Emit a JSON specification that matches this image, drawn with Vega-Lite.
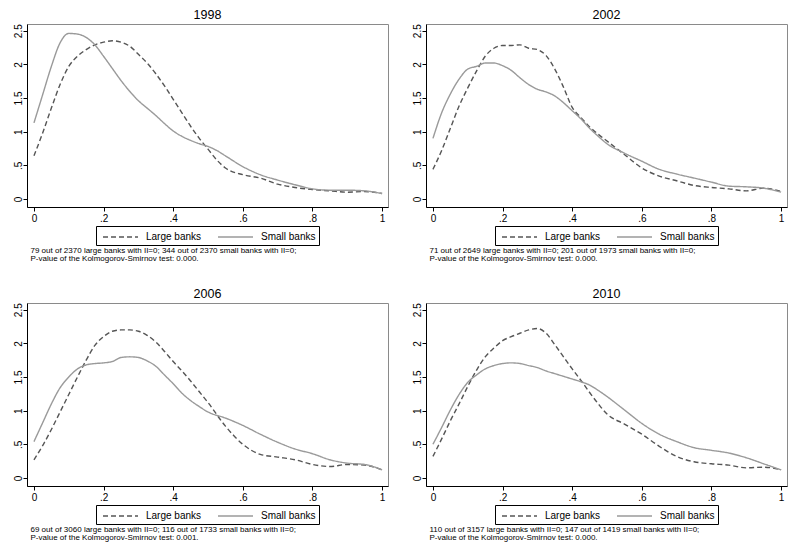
{
  "$schema": "https://vega.github.io/schema/vega-lite/v6.json",
  "background": "white",
  "padding": {"left": 12, "top": 8, "right": 6, "bottom": 2},
  "datasets": {
    "d": [
      {"year":1998,"g":"Large banks","x":0,"y":0.64},{"year":1998,"g":"Large banks","x":0.025,"y":0.98},{"year":1998,"g":"Large banks","x":0.05,"y":1.35},{"year":1998,"g":"Large banks","x":0.075,"y":1.7},{"year":1998,"g":"Large banks","x":0.1,"y":1.97},{"year":1998,"g":"Large banks","x":0.125,"y":2.12},{"year":1998,"g":"Large banks","x":0.15,"y":2.22},{"year":1998,"g":"Large banks","x":0.175,"y":2.29},{"year":1998,"g":"Large banks","x":0.2,"y":2.33},{"year":1998,"g":"Large banks","x":0.225,"y":2.35},{"year":1998,"g":"Large banks","x":0.25,"y":2.33},{"year":1998,"g":"Large banks","x":0.275,"y":2.27},{"year":1998,"g":"Large banks","x":0.3,"y":2.15},{"year":1998,"g":"Large banks","x":0.325,"y":2.02},{"year":1998,"g":"Large banks","x":0.35,"y":1.86},{"year":1998,"g":"Large banks","x":0.375,"y":1.68},{"year":1998,"g":"Large banks","x":0.4,"y":1.48},{"year":1998,"g":"Large banks","x":0.425,"y":1.28},{"year":1998,"g":"Large banks","x":0.45,"y":1.08},{"year":1998,"g":"Large banks","x":0.475,"y":0.9},{"year":1998,"g":"Large banks","x":0.5,"y":0.74},{"year":1998,"g":"Large banks","x":0.525,"y":0.58},{"year":1998,"g":"Large banks","x":0.55,"y":0.46},{"year":1998,"g":"Large banks","x":0.6,"y":0.36},{"year":1998,"g":"Large banks","x":0.65,"y":0.31},{"year":1998,"g":"Large banks","x":0.7,"y":0.22},{"year":1998,"g":"Large banks","x":0.75,"y":0.17},{"year":1998,"g":"Large banks","x":0.8,"y":0.14},{"year":1998,"g":"Large banks","x":0.85,"y":0.12},{"year":1998,"g":"Large banks","x":0.9,"y":0.1},{"year":1998,"g":"Large banks","x":0.95,"y":0.11},{"year":1998,"g":"Large banks","x":1,"y":0.08},
      {"year":1998,"g":"Small banks","x":0,"y":1.13},{"year":1998,"g":"Small banks","x":0.025,"y":1.55},{"year":1998,"g":"Small banks","x":0.05,"y":1.97},{"year":1998,"g":"Small banks","x":0.075,"y":2.32},{"year":1998,"g":"Small banks","x":0.1,"y":2.46},{"year":1998,"g":"Small banks","x":0.125,"y":2.45},{"year":1998,"g":"Small banks","x":0.15,"y":2.4},{"year":1998,"g":"Small banks","x":0.175,"y":2.29},{"year":1998,"g":"Small banks","x":0.2,"y":2.12},{"year":1998,"g":"Small banks","x":0.225,"y":1.94},{"year":1998,"g":"Small banks","x":0.25,"y":1.76},{"year":1998,"g":"Small banks","x":0.275,"y":1.6},{"year":1998,"g":"Small banks","x":0.3,"y":1.46},{"year":1998,"g":"Small banks","x":0.325,"y":1.35},{"year":1998,"g":"Small banks","x":0.35,"y":1.24},{"year":1998,"g":"Small banks","x":0.375,"y":1.12},{"year":1998,"g":"Small banks","x":0.4,"y":1.01},{"year":1998,"g":"Small banks","x":0.425,"y":0.93},{"year":1998,"g":"Small banks","x":0.45,"y":0.87},{"year":1998,"g":"Small banks","x":0.475,"y":0.82},{"year":1998,"g":"Small banks","x":0.5,"y":0.78},{"year":1998,"g":"Small banks","x":0.525,"y":0.72},{"year":1998,"g":"Small banks","x":0.55,"y":0.64},{"year":1998,"g":"Small banks","x":0.6,"y":0.48},{"year":1998,"g":"Small banks","x":0.65,"y":0.36},{"year":1998,"g":"Small banks","x":0.7,"y":0.28},{"year":1998,"g":"Small banks","x":0.75,"y":0.21},{"year":1998,"g":"Small banks","x":0.8,"y":0.15},{"year":1998,"g":"Small banks","x":0.85,"y":0.13},{"year":1998,"g":"Small banks","x":0.9,"y":0.13},{"year":1998,"g":"Small banks","x":0.95,"y":0.12},{"year":1998,"g":"Small banks","x":1,"y":0.08},
      {"year":2002,"g":"Large banks","x":0,"y":0.44},{"year":2002,"g":"Large banks","x":0.025,"y":0.72},{"year":2002,"g":"Large banks","x":0.05,"y":1.05},{"year":2002,"g":"Large banks","x":0.075,"y":1.38},{"year":2002,"g":"Large banks","x":0.1,"y":1.65},{"year":2002,"g":"Large banks","x":0.125,"y":1.9},{"year":2002,"g":"Large banks","x":0.15,"y":2.12},{"year":2002,"g":"Large banks","x":0.175,"y":2.24},{"year":2002,"g":"Large banks","x":0.2,"y":2.28},{"year":2002,"g":"Large banks","x":0.225,"y":2.28},{"year":2002,"g":"Large banks","x":0.25,"y":2.29},{"year":2002,"g":"Large banks","x":0.275,"y":2.24},{"year":2002,"g":"Large banks","x":0.3,"y":2.22},{"year":2002,"g":"Large banks","x":0.325,"y":2.13},{"year":2002,"g":"Large banks","x":0.35,"y":1.93},{"year":2002,"g":"Large banks","x":0.375,"y":1.66},{"year":2002,"g":"Large banks","x":0.4,"y":1.36},{"year":2002,"g":"Large banks","x":0.425,"y":1.21},{"year":2002,"g":"Large banks","x":0.45,"y":1.07},{"year":2002,"g":"Large banks","x":0.475,"y":0.96},{"year":2002,"g":"Large banks","x":0.5,"y":0.86},{"year":2002,"g":"Large banks","x":0.55,"y":0.66},{"year":2002,"g":"Large banks","x":0.6,"y":0.46},{"year":2002,"g":"Large banks","x":0.65,"y":0.34},{"year":2002,"g":"Large banks","x":0.7,"y":0.27},{"year":2002,"g":"Large banks","x":0.75,"y":0.2},{"year":2002,"g":"Large banks","x":0.8,"y":0.17},{"year":2002,"g":"Large banks","x":0.85,"y":0.15},{"year":2002,"g":"Large banks","x":0.9,"y":0.12},{"year":2002,"g":"Large banks","x":0.95,"y":0.16},{"year":2002,"g":"Large banks","x":1,"y":0.11},
      {"year":2002,"g":"Small banks","x":0,"y":0.9},{"year":2002,"g":"Small banks","x":0.025,"y":1.28},{"year":2002,"g":"Small banks","x":0.05,"y":1.56},{"year":2002,"g":"Small banks","x":0.075,"y":1.78},{"year":2002,"g":"Small banks","x":0.1,"y":1.93},{"year":2002,"g":"Small banks","x":0.125,"y":1.97},{"year":2002,"g":"Small banks","x":0.15,"y":2.02},{"year":2002,"g":"Small banks","x":0.175,"y":2.02},{"year":2002,"g":"Small banks","x":0.2,"y":1.98},{"year":2002,"g":"Small banks","x":0.225,"y":1.91},{"year":2002,"g":"Small banks","x":0.25,"y":1.8},{"year":2002,"g":"Small banks","x":0.275,"y":1.7},{"year":2002,"g":"Small banks","x":0.3,"y":1.63},{"year":2002,"g":"Small banks","x":0.325,"y":1.59},{"year":2002,"g":"Small banks","x":0.35,"y":1.53},{"year":2002,"g":"Small banks","x":0.375,"y":1.43},{"year":2002,"g":"Small banks","x":0.4,"y":1.31},{"year":2002,"g":"Small banks","x":0.425,"y":1.19},{"year":2002,"g":"Small banks","x":0.45,"y":1.05},{"year":2002,"g":"Small banks","x":0.475,"y":0.93},{"year":2002,"g":"Small banks","x":0.5,"y":0.82},{"year":2002,"g":"Small banks","x":0.55,"y":0.68},{"year":2002,"g":"Small banks","x":0.6,"y":0.56},{"year":2002,"g":"Small banks","x":0.65,"y":0.44},{"year":2002,"g":"Small banks","x":0.7,"y":0.37},{"year":2002,"g":"Small banks","x":0.75,"y":0.31},{"year":2002,"g":"Small banks","x":0.8,"y":0.25},{"year":2002,"g":"Small banks","x":0.85,"y":0.19},{"year":2002,"g":"Small banks","x":0.9,"y":0.18},{"year":2002,"g":"Small banks","x":0.95,"y":0.16},{"year":2002,"g":"Small banks","x":1,"y":0.1},
      {"year":2006,"g":"Large banks","x":0,"y":0.27},{"year":2006,"g":"Large banks","x":0.025,"y":0.48},{"year":2006,"g":"Large banks","x":0.05,"y":0.72},{"year":2006,"g":"Large banks","x":0.075,"y":0.98},{"year":2006,"g":"Large banks","x":0.1,"y":1.24},{"year":2006,"g":"Large banks","x":0.125,"y":1.5},{"year":2006,"g":"Large banks","x":0.15,"y":1.75},{"year":2006,"g":"Large banks","x":0.175,"y":1.97},{"year":2006,"g":"Large banks","x":0.2,"y":2.1},{"year":2006,"g":"Large banks","x":0.225,"y":2.18},{"year":2006,"g":"Large banks","x":0.25,"y":2.2},{"year":2006,"g":"Large banks","x":0.275,"y":2.2},{"year":2006,"g":"Large banks","x":0.3,"y":2.18},{"year":2006,"g":"Large banks","x":0.325,"y":2.12},{"year":2006,"g":"Large banks","x":0.35,"y":2.02},{"year":2006,"g":"Large banks","x":0.375,"y":1.88},{"year":2006,"g":"Large banks","x":0.4,"y":1.73},{"year":2006,"g":"Large banks","x":0.425,"y":1.59},{"year":2006,"g":"Large banks","x":0.45,"y":1.44},{"year":2006,"g":"Large banks","x":0.475,"y":1.28},{"year":2006,"g":"Large banks","x":0.5,"y":1.12},{"year":2006,"g":"Large banks","x":0.55,"y":0.77},{"year":2006,"g":"Large banks","x":0.6,"y":0.5},{"year":2006,"g":"Large banks","x":0.65,"y":0.35},{"year":2006,"g":"Large banks","x":0.7,"y":0.31},{"year":2006,"g":"Large banks","x":0.75,"y":0.27},{"year":2006,"g":"Large banks","x":0.8,"y":0.2},{"year":2006,"g":"Large banks","x":0.85,"y":0.17},{"year":2006,"g":"Large banks","x":0.9,"y":0.2},{"year":2006,"g":"Large banks","x":0.95,"y":0.19},{"year":2006,"g":"Large banks","x":1,"y":0.12},
      {"year":2006,"g":"Small banks","x":0,"y":0.54},{"year":2006,"g":"Small banks","x":0.025,"y":0.82},{"year":2006,"g":"Small banks","x":0.05,"y":1.1},{"year":2006,"g":"Small banks","x":0.075,"y":1.34},{"year":2006,"g":"Small banks","x":0.1,"y":1.5},{"year":2006,"g":"Small banks","x":0.125,"y":1.62},{"year":2006,"g":"Small banks","x":0.15,"y":1.68},{"year":2006,"g":"Small banks","x":0.175,"y":1.7},{"year":2006,"g":"Small banks","x":0.2,"y":1.71},{"year":2006,"g":"Small banks","x":0.225,"y":1.73},{"year":2006,"g":"Small banks","x":0.25,"y":1.79},{"year":2006,"g":"Small banks","x":0.275,"y":1.8},{"year":2006,"g":"Small banks","x":0.3,"y":1.79},{"year":2006,"g":"Small banks","x":0.325,"y":1.74},{"year":2006,"g":"Small banks","x":0.35,"y":1.66},{"year":2006,"g":"Small banks","x":0.375,"y":1.53},{"year":2006,"g":"Small banks","x":0.4,"y":1.4},{"year":2006,"g":"Small banks","x":0.425,"y":1.26},{"year":2006,"g":"Small banks","x":0.45,"y":1.15},{"year":2006,"g":"Small banks","x":0.475,"y":1.06},{"year":2006,"g":"Small banks","x":0.5,"y":0.98},{"year":2006,"g":"Small banks","x":0.55,"y":0.89},{"year":2006,"g":"Small banks","x":0.6,"y":0.78},{"year":2006,"g":"Small banks","x":0.65,"y":0.65},{"year":2006,"g":"Small banks","x":0.7,"y":0.53},{"year":2006,"g":"Small banks","x":0.75,"y":0.43},{"year":2006,"g":"Small banks","x":0.8,"y":0.36},{"year":2006,"g":"Small banks","x":0.85,"y":0.27},{"year":2006,"g":"Small banks","x":0.9,"y":0.22},{"year":2006,"g":"Small banks","x":0.95,"y":0.2},{"year":2006,"g":"Small banks","x":1,"y":0.12},
      {"year":2010,"g":"Large banks","x":0,"y":0.32},{"year":2010,"g":"Large banks","x":0.025,"y":0.58},{"year":2010,"g":"Large banks","x":0.05,"y":0.85},{"year":2010,"g":"Large banks","x":0.075,"y":1.1},{"year":2010,"g":"Large banks","x":0.1,"y":1.36},{"year":2010,"g":"Large banks","x":0.125,"y":1.6},{"year":2010,"g":"Large banks","x":0.15,"y":1.8},{"year":2010,"g":"Large banks","x":0.175,"y":1.93},{"year":2010,"g":"Large banks","x":0.2,"y":2.04},{"year":2010,"g":"Large banks","x":0.225,"y":2.1},{"year":2010,"g":"Large banks","x":0.25,"y":2.15},{"year":2010,"g":"Large banks","x":0.275,"y":2.2},{"year":2010,"g":"Large banks","x":0.3,"y":2.22},{"year":2010,"g":"Large banks","x":0.325,"y":2.15},{"year":2010,"g":"Large banks","x":0.35,"y":1.98},{"year":2010,"g":"Large banks","x":0.375,"y":1.8},{"year":2010,"g":"Large banks","x":0.4,"y":1.62},{"year":2010,"g":"Large banks","x":0.425,"y":1.45},{"year":2010,"g":"Large banks","x":0.45,"y":1.27},{"year":2010,"g":"Large banks","x":0.475,"y":1.1},{"year":2010,"g":"Large banks","x":0.5,"y":0.95},{"year":2010,"g":"Large banks","x":0.55,"y":0.8},{"year":2010,"g":"Large banks","x":0.6,"y":0.65},{"year":2010,"g":"Large banks","x":0.65,"y":0.47},{"year":2010,"g":"Large banks","x":0.7,"y":0.32},{"year":2010,"g":"Large banks","x":0.75,"y":0.24},{"year":2010,"g":"Large banks","x":0.8,"y":0.21},{"year":2010,"g":"Large banks","x":0.85,"y":0.19},{"year":2010,"g":"Large banks","x":0.9,"y":0.15},{"year":2010,"g":"Large banks","x":0.95,"y":0.16},{"year":2010,"g":"Large banks","x":1,"y":0.12},
      {"year":2010,"g":"Small banks","x":0,"y":0.5},{"year":2010,"g":"Small banks","x":0.025,"y":0.75},{"year":2010,"g":"Small banks","x":0.05,"y":1.01},{"year":2010,"g":"Small banks","x":0.075,"y":1.24},{"year":2010,"g":"Small banks","x":0.1,"y":1.42},{"year":2010,"g":"Small banks","x":0.125,"y":1.53},{"year":2010,"g":"Small banks","x":0.15,"y":1.62},{"year":2010,"g":"Small banks","x":0.175,"y":1.67},{"year":2010,"g":"Small banks","x":0.2,"y":1.7},{"year":2010,"g":"Small banks","x":0.225,"y":1.71},{"year":2010,"g":"Small banks","x":0.25,"y":1.7},{"year":2010,"g":"Small banks","x":0.275,"y":1.67},{"year":2010,"g":"Small banks","x":0.3,"y":1.64},{"year":2010,"g":"Small banks","x":0.325,"y":1.59},{"year":2010,"g":"Small banks","x":0.35,"y":1.55},{"year":2010,"g":"Small banks","x":0.375,"y":1.51},{"year":2010,"g":"Small banks","x":0.4,"y":1.47},{"year":2010,"g":"Small banks","x":0.425,"y":1.43},{"year":2010,"g":"Small banks","x":0.45,"y":1.38},{"year":2010,"g":"Small banks","x":0.475,"y":1.3},{"year":2010,"g":"Small banks","x":0.5,"y":1.21},{"year":2010,"g":"Small banks","x":0.55,"y":1.01},{"year":2010,"g":"Small banks","x":0.6,"y":0.81},{"year":2010,"g":"Small banks","x":0.65,"y":0.65},{"year":2010,"g":"Small banks","x":0.7,"y":0.54},{"year":2010,"g":"Small banks","x":0.75,"y":0.45},{"year":2010,"g":"Small banks","x":0.8,"y":0.41},{"year":2010,"g":"Small banks","x":0.85,"y":0.37},{"year":2010,"g":"Small banks","x":0.9,"y":0.3},{"year":2010,"g":"Small banks","x":0.95,"y":0.21},{"year":2010,"g":"Small banks","x":1,"y":0.12}
    ]
  },
  "data": {"name": "d"},
  "columns": 2,
  "spacing": {"column": 22, "row": 24},
  "concat": [
    {
      "title": {"text": ["79 out of 2370 large banks with II=0; 344 out of 2370 small banks with II=0;", "P-value of the Kolmogorov-Smirnov test: 0.000."], "orient": "bottom", "anchor": "start", "fontSize": 8, "lineHeight": 8, "offset": 1, "dx": 18, "fontWeight": "normal", "color": "black"},
      "resolve": {"legend": {"color": "independent", "strokeDash": "independent"}},
      "vconcat": [
        {
          "title": "1998",
          "width": 361, "height": 183,
          "transform": [{"filter": "datum.year == 1998"}],
          "mark": {"type": "line", "interpolate": "monotone", "strokeWidth": 1.4},
          "encoding": {
            "x": {"field": "x", "type": "quantitative", "scale": {"domain": [-0.02, 1.017], "nice": false, "zero": false}, "axis": {"values": [0, 0.2, 0.4, 0.6, 0.8, 1], "format": "~g", "labelExpr": "datum.value > 0 && datum.value < 1 ? substring(datum.label, 1) : datum.label"}, "title": null},
            "y": {"field": "y", "type": "quantitative", "scale": {"domain": [-0.12, 2.6], "nice": false, "zero": false}, "axis": {"values": [0, 0.5, 1, 1.5, 2, 2.5], "format": "~g", "labelExpr": "datum.value > 0 && datum.value < 1 ? substring(datum.label, 1) : datum.label"}, "title": null},
            "color": {"field": "g", "type": "nominal", "scale": {"domain": ["Large banks", "Small banks"], "range": ["#555555", "#9a9a9a"]}, "title": null},
            "strokeDash": {"field": "g", "type": "nominal", "scale": {"domain": ["Large banks", "Small banks"], "range": [[5, 3], [1, 0]]}, "title": null}
          }
        }
      ]
    },
    {
      "title": {"text": ["71 out of 2649 large banks with II=0; 201 out of 1973 small banks with II=0;", "P-value of the Kolmogorov-Smirnov test: 0.000."], "orient": "bottom", "anchor": "start", "fontSize": 8, "lineHeight": 8, "offset": 1, "dx": 18, "fontWeight": "normal", "color": "black"},
      "resolve": {"legend": {"color": "independent", "strokeDash": "independent"}},
      "vconcat": [
        {
          "title": "2002",
          "width": 361, "height": 183,
          "transform": [{"filter": "datum.year == 2002"}],
          "mark": {"type": "line", "interpolate": "monotone", "strokeWidth": 1.4},
          "encoding": {
            "x": {"field": "x", "type": "quantitative", "scale": {"domain": [-0.02, 1.017], "nice": false, "zero": false}, "axis": {"values": [0, 0.2, 0.4, 0.6, 0.8, 1], "format": "~g", "labelExpr": "datum.value > 0 && datum.value < 1 ? substring(datum.label, 1) : datum.label"}, "title": null},
            "y": {"field": "y", "type": "quantitative", "scale": {"domain": [-0.12, 2.6], "nice": false, "zero": false}, "axis": {"values": [0, 0.5, 1, 1.5, 2, 2.5], "format": "~g", "labelExpr": "datum.value > 0 && datum.value < 1 ? substring(datum.label, 1) : datum.label"}, "title": null},
            "color": {"field": "g", "type": "nominal", "scale": {"domain": ["Large banks", "Small banks"], "range": ["#555555", "#9a9a9a"]}, "title": null},
            "strokeDash": {"field": "g", "type": "nominal", "scale": {"domain": ["Large banks", "Small banks"], "range": [[5, 3], [1, 0]]}, "title": null}
          }
        }
      ]
    },
    {
      "title": {"text": ["69 out of 3060 large banks with II=0; 116 out of 1733 small banks with II=0;", "P-value of the Kolmogorov-Smirnov test: 0.001."], "orient": "bottom", "anchor": "start", "fontSize": 8, "lineHeight": 8, "offset": 1, "dx": 18, "fontWeight": "normal", "color": "black"},
      "resolve": {"legend": {"color": "independent", "strokeDash": "independent"}},
      "vconcat": [
        {
          "title": "2006",
          "width": 361, "height": 183,
          "transform": [{"filter": "datum.year == 2006"}],
          "mark": {"type": "line", "interpolate": "monotone", "strokeWidth": 1.4},
          "encoding": {
            "x": {"field": "x", "type": "quantitative", "scale": {"domain": [-0.02, 1.017], "nice": false, "zero": false}, "axis": {"values": [0, 0.2, 0.4, 0.6, 0.8, 1], "format": "~g", "labelExpr": "datum.value > 0 && datum.value < 1 ? substring(datum.label, 1) : datum.label"}, "title": null},
            "y": {"field": "y", "type": "quantitative", "scale": {"domain": [-0.12, 2.6], "nice": false, "zero": false}, "axis": {"values": [0, 0.5, 1, 1.5, 2, 2.5], "format": "~g", "labelExpr": "datum.value > 0 && datum.value < 1 ? substring(datum.label, 1) : datum.label"}, "title": null},
            "color": {"field": "g", "type": "nominal", "scale": {"domain": ["Large banks", "Small banks"], "range": ["#555555", "#9a9a9a"]}, "title": null},
            "strokeDash": {"field": "g", "type": "nominal", "scale": {"domain": ["Large banks", "Small banks"], "range": [[5, 3], [1, 0]]}, "title": null}
          }
        }
      ]
    },
    {
      "title": {"text": ["110 out of 3157 large banks with II=0; 147 out of 1419 small banks with II=0;", "P-value of the Kolmogorov-Smirnov test: 0.000."], "orient": "bottom", "anchor": "start", "fontSize": 8, "lineHeight": 8, "offset": 1, "dx": 18, "fontWeight": "normal", "color": "black"},
      "resolve": {"legend": {"color": "independent", "strokeDash": "independent"}},
      "vconcat": [
        {
          "title": "2010",
          "width": 361, "height": 183,
          "transform": [{"filter": "datum.year == 2010"}],
          "mark": {"type": "line", "interpolate": "monotone", "strokeWidth": 1.4},
          "encoding": {
            "x": {"field": "x", "type": "quantitative", "scale": {"domain": [-0.02, 1.017], "nice": false, "zero": false}, "axis": {"values": [0, 0.2, 0.4, 0.6, 0.8, 1], "format": "~g", "labelExpr": "datum.value > 0 && datum.value < 1 ? substring(datum.label, 1) : datum.label"}, "title": null},
            "y": {"field": "y", "type": "quantitative", "scale": {"domain": [-0.12, 2.6], "nice": false, "zero": false}, "axis": {"values": [0, 0.5, 1, 1.5, 2, 2.5], "format": "~g", "labelExpr": "datum.value > 0 && datum.value < 1 ? substring(datum.label, 1) : datum.label"}, "title": null},
            "color": {"field": "g", "type": "nominal", "scale": {"domain": ["Large banks", "Small banks"], "range": ["#555555", "#9a9a9a"]}, "title": null},
            "strokeDash": {"field": "g", "type": "nominal", "scale": {"domain": ["Large banks", "Small banks"], "range": [[5, 3], [1, 0]]}, "title": null}
          }
        }
      ]
    }
  ],
  "resolve": {"legend": {"color": "independent", "strokeDash": "independent"}},
  "config": {
    "font": "Liberation Sans",
    "view": {"stroke": "#8a8a8a", "strokeWidth": 1},
    "title": {"fontSize": 12.5, "fontWeight": "normal", "color": "black", "font": "Liberation Sans", "offset": 2},
    "axis": {"grid": false, "domainColor": "black", "tickColor": "black", "labelColor": "black", "labelFontSize": 10, "tickSize": 4, "labelPadding": 2, "labelFont": "Liberation Sans"},
    "axisY": {"labelAngle": 270, "labelAlign": "center", "labelBaseline": "bottom", "labelPadding": 0},
    "legend": {"orient": "none", "legendX": 69, "legendY": 202, "direction": "horizontal", "strokeColor": "black", "padding": 3, "symbolType": "M-2.5,0H2.5", "symbolSize": 196, "symbolOffset": 13.5, "symbolStrokeWidth": 1.3, "labelFontSize": 10, "labelColor": "black", "labelFont": "Liberation Sans", "columnPadding": 12, "labelOffset": 17.5, "fillColor": "white"}
  }
}
